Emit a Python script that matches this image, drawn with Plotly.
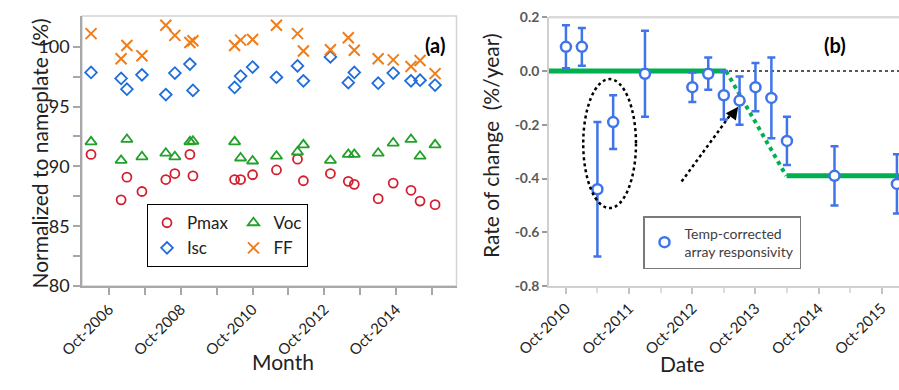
import plotly.graph_objects as go

# ---------------- Panel (a) data ----------------
a_dates = ['2006-04-01', '2007-02-01', '2007-04-01', '2007-09-01', '2008-05-01', '2008-08-01',
           '2009-01-01', '2009-02-01', '2010-04-01', '2010-06-01', '2010-10-01', '2011-06-01',
           '2012-01-01', '2012-03-01', '2012-12-01', '2013-06-01', '2013-08-01', '2014-04-01',
           '2014-09-01', '2015-03-01', '2015-06-01', '2015-11-01']
pmax = [91.0, 87.2, 89.1, 87.9, 88.9, 89.4, 91.0, 89.2, 88.9, 88.9, 89.3, 89.7,
        90.6, 88.8, 89.4, 88.75, 88.5, 87.3, 88.6, 88.0, 87.1, 86.8]
isc = [97.85, 97.35, 96.45, 97.65, 96.0, 97.8, 98.55, 96.35, 96.6, 97.55, 98.3, 97.45,
       98.4, 97.15, 99.15, 97.0, 97.85, 96.95, 97.8, 97.15, 97.2, 96.8]
voc = [92.05, 90.5, 92.25, 90.8, 91.1, 90.8, 92.05, 92.1, 92.05, 90.7, 90.45, 90.85,
       91.2, 91.8, 90.5, 91.0, 91.0, 91.1, 91.95, 92.25, 90.85, 91.8]
ff = [101.1, 99.0, 100.1, 99.25, 101.8, 100.95, 100.35, 100.5, 100.1, 100.55, 100.6, 101.8,
      101.1, 99.65, 99.75, 100.75, 99.7, 99.0, 98.9, 98.35, 98.85, 97.75]
a_tickvals = ['2006-10-01', '2007-10-01', '2008-10-01', '2009-10-01', '2010-10-01',
              '2011-10-01', '2012-10-01', '2013-10-01', '2014-10-01', '2015-10-01']
a_ticktext = ['Oct-2006', '', 'Oct-2008', '', 'Oct-2010', '', 'Oct-2012', '', 'Oct-2014', '']
a_yticks = [80, 85, 90, 95, 100]

# ---------------- Panel (b) data ----------------
b_dates = ['2010-10-01', '2011-01-01', '2011-04-01', '2011-07-01', '2012-01-01', '2012-10-01',
           '2013-01-01', '2013-04-01', '2013-07-01', '2013-10-01', '2014-01-01', '2014-04-01',
           '2015-01-01', '2015-12-28']
b_rate = [0.09, 0.09, -0.44, -0.19, -0.01, -0.06, -0.01, -0.09, -0.11, -0.06, -0.10, -0.26,
          -0.39, -0.42]
b_err = [0.08, 0.07, 0.25, 0.10, 0.16, 0.055, 0.06, 0.09, 0.09, 0.09, 0.15, 0.09, 0.11, 0.11]
trend1_dates = ['2010-01-01', '2013-04-14']
trend1_vals = [0.0, 0.0]
trend2_dates = ['2013-04-14', '2014-03-28']
trend2_vals = [0.0, -0.39]
trend3_dates = ['2014-03-30', '2016-06-01']
trend3_vals = [-0.39, -0.39]
b_tickvals = ['2010-10-01', '2011-10-01', '2012-10-01', '2013-10-01', '2014-10-01', '2015-10-01']
b_ticktext = ['Oct-2010', 'Oct-2011', 'Oct-2012', 'Oct-2013', 'Oct-2014', 'Oct-2015']
b_minor = ['2011-04-01', '2012-04-01', '2013-04-01', '2014-04-01', '2015-04-01']
b_yticks = [-0.8, -0.6, -0.4, -0.2, 0.0, 0.2]
b_yticktext = ['-0.8', '-0.6', '-0.4', '-0.2', '0.0', '0.2']

FONT = 'Lato'
fig = go.Figure()

# Panel (a) traces
fig.add_trace(go.Scatter(x=a_dates, y=pmax, mode='markers', name='Pmax', legendgroup='g1',
                         marker=dict(symbol='circle-open', size=9, color='#d3202e', line=dict(width=1.8)),
                         xaxis='x', yaxis='y', legend='legend'))
fig.add_trace(go.Scatter(x=a_dates, y=isc, mode='markers', name='Isc', legendgroup='g1',
                         marker=dict(symbol='diamond-open', size=9, color='#1f6ddc', line=dict(width=1.8)),
                         xaxis='x', yaxis='y', legend='legend'))
fig.add_trace(go.Scatter(x=a_dates, y=voc, mode='markers', name='Voc', legendgroup='g2',
                         marker=dict(symbol='triangle-up-open', size=10, color='#23a02a', line=dict(width=1.8)),
                         xaxis='x', yaxis='y', legend='legend'))
fig.add_trace(go.Scatter(x=a_dates, y=ff, mode='markers', name='FF', legendgroup='g2',
                         marker=dict(symbol='x-thin-open', size=11, color='#ef7d1a', line=dict(width=2, color='#ef7d1a')),
                         xaxis='x', yaxis='y', legend='legend'))

# Panel (b) trend lines
GREEN = '#00b050'
fig.add_trace(go.Scatter(x=trend1_dates, y=trend1_vals, mode='lines', showlegend=False,
                         line=dict(color=GREEN, width=5), xaxis='x2', yaxis='y2', hoverinfo='skip'))
fig.add_trace(go.Scatter(x=trend2_dates, y=trend2_vals, mode='lines', showlegend=False,
                         line=dict(color=GREEN, width=4, dash='dot'), xaxis='x2', yaxis='y2', hoverinfo='skip'))
fig.add_trace(go.Scatter(x=trend3_dates, y=trend3_vals, mode='lines', showlegend=False,
                         line=dict(color=GREEN, width=5), xaxis='x2', yaxis='y2', hoverinfo='skip'))

BLUE = '#3f74ea'
fig.add_trace(go.Scatter(x=b_dates, y=b_rate, mode='markers', name='Temp-corrected<br>array responsivity',
                         marker=dict(symbol='circle', size=10, color='white', line=dict(width=2.5, color=BLUE)),
                         error_y=dict(type='data', array=b_err, visible=True, color=BLUE, thickness=2.5, width=4),
                         xaxis='x2', yaxis='y2', legend='legend2'))

shapes = [
    dict(type='rect', xref='x domain', yref='y domain', x0=0, x1=1, y0=0, y1=1,
         line=dict(color='#d4d4d4', width=1.5), layer='below'),
    dict(type='line', xref='x2 domain', yref='y2 domain', x0=0, x1=1, y0=1, y1=1,
         line=dict(color='#dadada', width=2.5), layer='below'),
    dict(type='line', xref='x2 domain', yref='y2', x0=0, x1=1, y0=0, y1=0,
         line=dict(color='#222222', width=1.5, dash='dot'), layer='below'),
    dict(type='circle', xref='x2', yref='y2', x0='2011-01-09', x1='2011-11-10', y0=-0.51, y1=-0.03,
         line=dict(color='black', width=2.5, dash='dot')),
    dict(type='line', xref='x2', yref='y2', x0='2012-07-31', y0=-0.411, x1='2013-05-26', y1=-0.148,
         line=dict(color='black', width=2.5, dash='dot')),
]

annotations = [
    dict(text='', x='2013-06-23', y=-0.133, xref='x2', yref='y2', showarrow=True,
         ax=-8, ay=11, arrowhead=2, arrowsize=1, arrowwidth=2.5, arrowcolor='black', standoff=0),
    dict(text='<b>(a)</b>', x=435 / 899, y=1 - 31 / 390, xref='paper', yref='paper',
         showarrow=False, font=dict(family=FONT, size=20, color='black')),
    dict(text='<b>(b)</b>', x=848 / 899, y=1 - 31 / 390, xref='paper', yref='paper',
         showarrow=False, font=dict(family=FONT, size=20, color='black')),
    dict(text='Normalized to nameplate \u00a0(%)', x=25 / 899, y=1 - 154 / 390, xref='paper', yref='paper',
         textangle=-90, showarrow=False, font=dict(family=FONT, size=21, color='#222')),
    dict(text='Month', x=250 / 899, y=1 - 376 / 390, xref='paper', yref='paper',
         showarrow=False, font=dict(family=FONT, size=21, color='#222')),
    dict(text='Rate of change \u00a0(%/year)', x=490 / 899, y=1 - 146 / 390, xref='paper', yref='paper',
         textangle=-90, showarrow=False, font=dict(family=FONT, size=21, color='#222')),
    dict(text='Date', x=707 / 899, y=1 - 378 / 390, xref='paper', yref='paper',
         showarrow=False, font=dict(family=FONT, size=21, color='#222')),
]

fig.update_layout(
    width=899, height=390,
    margin=dict(l=0, r=0, t=0, b=0, autoexpand=False),
    paper_bgcolor='white', plot_bgcolor='white',
    font=dict(family=FONT, color='#222'),
    xaxis=dict(domain=[82 / 899, 456.5 / 899], type='date', range=['2005-12-30', '2016-06-06'],
               tickmode='array', tickvals=a_tickvals, ticktext=a_ticktext, tickangle=-45,
               showline=True, linecolor='#a8a8a8', linewidth=1.5, ticks='outside', ticklen=7,
               tickcolor='#a8a8a8', tickwidth=1.5, showgrid=False, zeroline=False, automargin=False,
               tickfont=dict(family=FONT, size=15, color='#222'), anchor='y'),
    yaxis=dict(domain=[1 - 286 / 390, 1 - 16 / 390], range=[80, 102.57], tickmode='array',
               tickvals=a_yticks, showline=True, linecolor='#a8a8a8', linewidth=1.5,
               ticks='outside', ticklen=7, tickcolor='#a8a8a8', tickwidth=1.5, showgrid=False,
               zeroline=False, automargin=False, tickfont=dict(family=FONT, size=18, color='#222'),
               minor=dict(tickvals=[82.5, 87.5, 92.5, 97.5], ticks='outside', ticklen=7,
                          tickcolor='#a8a8a8', tickwidth=1.5, showgrid=False), anchor='x'),
    xaxis2=dict(domain=[549 / 899, 1.0], type='date', range=['2010-06-25', '2016-01-09'],
                tickmode='array', tickvals=b_tickvals, ticktext=b_ticktext, tickangle=-45,
                showline=True, linecolor='#d0d0d0', linewidth=1.5, ticks='outside', ticklen=6,
                tickcolor='#c4c4c4', tickwidth=1.5, showgrid=False, zeroline=False, automargin=False,
                tickfont=dict(family=FONT, size=15, color='#222'),
                minor=dict(tickvals=b_minor, ticks='outside', ticklen=5, tickcolor='#dddddd',
                           tickwidth=1.5, showgrid=False), anchor='y2'),
    yaxis2=dict(domain=[1 - 286 / 390, 1 - 17.3 / 390], range=[-0.8, 0.2], tickmode='array',
                tickvals=b_yticks, ticktext=b_yticktext, showline=True, linecolor='#d0d0d0',
                linewidth=1.5, ticks='outside', ticklen=5, tickcolor='#9a9a9a', tickwidth=1.5,
                showgrid=False, zeroline=False, automargin=False,
                tickfont=dict(family=FONT, size=14, color='#5a5a5a', weight='bold'), anchor='x2'),
    legend=dict(orientation='h', traceorder='grouped', x=147 / 899, y=1 - 204 / 390,
                xanchor='left', yanchor='top', bgcolor='white', bordercolor='black', borderwidth=1.2,
                font=dict(family=FONT, size=17, color='#222'), itemclick=False, itemdoubleclick=False),
    legend2=dict(x=643 / 899, y=1 - 216 / 390, xanchor='left', yanchor='top', bgcolor='white',
                 bordercolor='#7a7a7a', borderwidth=1.5,
                 font=dict(family=FONT, size=14, color='#404040')),
    shapes=shapes,
    annotations=annotations,
)

fig.write_html('out.html', config={'displayModeBar': False},
               post_script="document.body.style.margin='0';document.body.style.overflow='hidden';")
